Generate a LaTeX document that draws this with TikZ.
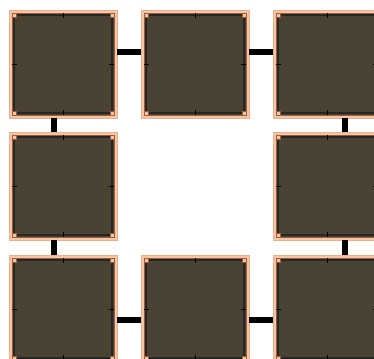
\documentclass[tikz,border=0pt]{standalone}
\definecolor{tilepeach}{HTML}{F6C6A4}
\definecolor{tileedge}{HTML}{A05C36}
\definecolor{tiledark}{HTML}{4A4334}
\definecolor{railgray}{HTML}{262626}
\tikzset{
    tile/.style = {minimum width = 108pt, minimum height = 108pt, inner sep = 0pt,
        draw = tilepeach!80!tileedge, line width = 0.5pt, fill = tilepeach,
        path picture = {
            \filldraw[fill = tiledark, draw = tileedge, line width = 0.6pt]
                ([shift = {(3pt, 3pt)}]path picture bounding box.south west)
                rectangle ([shift = {(-3pt, -3pt)}]path picture bounding box.north east);
            \draw[rail] ([shift = {(5pt, 5pt)}]path picture bounding box.south west)
                rectangle ([shift = {(-5pt, -5pt)}]path picture bounding box.north east);
            \draw[tick] ([yshift = -3pt]path picture bounding box.north) -- ++(0, -5pt);
            \draw[tick] ([yshift = 3pt]path picture bounding box.south) -- ++(0, 5pt);
            \draw[tick] ([xshift = 3pt]path picture bounding box.west) -- ++(5pt, 0);
            \draw[tick] ([xshift = -3pt]path picture bounding box.east) -- ++(-5pt, 0);
            \foreach \a/\sx/\sy in {north west/1/-1, north east/-1/-1, south west/1/1, south east/-1/1}
                \filldraw[fill = tilepeach, draw = tileedge, line width = 0.4pt]
                    ([shift = {(\sx*3pt, \sy*3pt)}]path picture bounding box.\a)
                    rectangle ++(\sx*4pt, \sy*4pt);
        }},
    rail/.style = {draw = railgray, line width = 2.2pt},
    tick/.style = {draw = black, line width = 0.9pt},
    link/.style = {draw = black, line width = 6pt}
}
\begin{document}
\begin{tikzpicture}[x = 1pt, y = 1pt]
    \useasboundingbox (0, 0) rectangle (374, 358);
    \clip (0, 0) rectangle (374, 358);
    % tiles of the ring
    \foreach \n/\x/\y in {t11/63/294, t12/195/294, t13/327/294, t21/63/172, t23/327/172, t31/63/49, t32/195/49, t33/327/49}{
        \node[tile] (\n) at (\x, \y) {};
    }
    % links between neighbours
    \foreach \a/\b/\s in {t11/t12/12, t12/t13/12, t31/t32/-11.5, t32/t33/-11.5}{
        \draw[link] ([yshift = \s pt]\a.east) -- ([yshift = \s pt]\b.west);
    }
    \foreach \a/\b/\s in {t11/t21/-9, t21/t31/-9, t13/t23/18, t23/t33/18}{
        \draw[link] ([xshift = \s pt]\a.south) -- ([xshift = \s pt]\b.north);
    }
\end{tikzpicture}
\end{document}
